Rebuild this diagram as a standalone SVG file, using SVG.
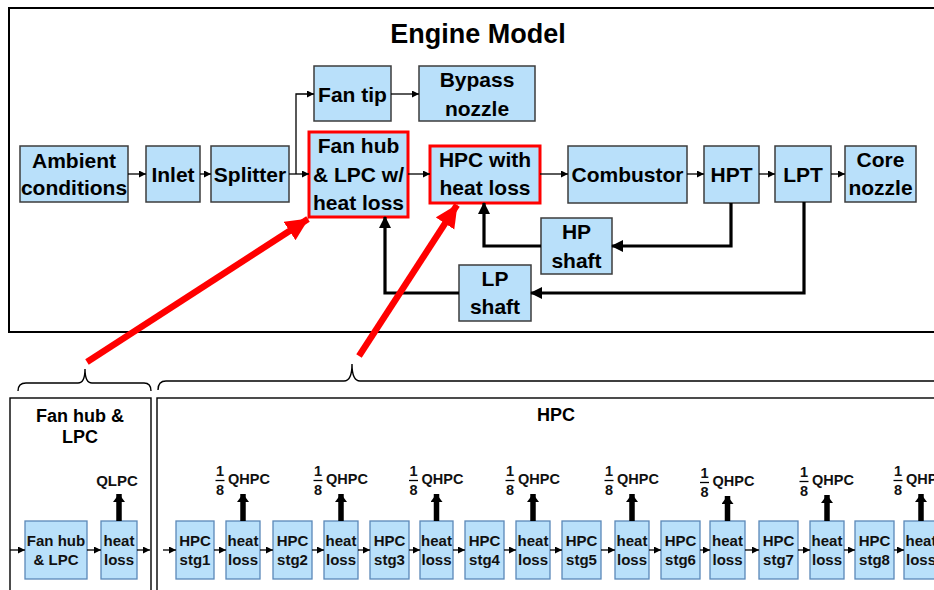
<svg xmlns="http://www.w3.org/2000/svg" width="934" height="590" viewBox="0 0 934 590">
<style>
.frame{fill:none;stroke:#000;stroke-width:2}
.thin{fill:none;stroke:#000;stroke-width:1.4}
.box{fill:#b9e0fa;stroke:#3c3c3c;stroke-width:1.5}
.rbox{fill:#b9e0fa;stroke:#ff0000;stroke-width:3}
.sbox{fill:#b9e0fa;stroke:#5a88b8;stroke-width:1.3}
.t{font-family:"Liberation Sans",Arial,sans-serif;font-weight:bold;font-size:21px;fill:#000;text-anchor:middle}
.title{font-family:"Liberation Sans",Arial,sans-serif;font-weight:bold;font-size:27px;fill:#000;text-anchor:middle}
.s{font-family:"Liberation Sans",Arial,sans-serif;font-weight:bold;font-size:15px;fill:#111;text-anchor:middle}
.st{font-family:"Liberation Sans",Arial,sans-serif;font-weight:bold;font-size:18px;fill:#000;text-anchor:middle}
.q{font-family:"Liberation Sans",Arial,sans-serif;font-weight:bold;font-size:14.5px;fill:#111}
.fr{font-family:"Liberation Sans",Arial,sans-serif;font-weight:bold;font-size:14.5px;fill:#111;text-anchor:middle}
.c{fill:none;stroke:#000;stroke-width:1.3}
.ck{fill:none;stroke:#000;stroke-width:3.2}
.cr{fill:none;stroke:#ff0000;stroke-width:6.5}
.cq{fill:none;stroke:#000;stroke-width:5.5}
</style>
<defs>
<marker id="a" markerUnits="userSpaceOnUse" markerWidth="8" markerHeight="8" refX="7" refY="3.5" orient="auto"><path d="M0,0 L7,3.5 L0,7 z" fill="#000"/></marker>
<marker id="ak" markerUnits="userSpaceOnUse" markerWidth="13" markerHeight="13" refX="11" refY="6" orient="auto"><path d="M0,0 L12,6 L0,12 z" fill="#000"/></marker>
<marker id="ar" markerUnits="userSpaceOnUse" markerWidth="26" markerHeight="24" refX="22" refY="11" orient="auto"><path d="M0,0 L23,11 L0,22 z" fill="#ff0000"/></marker>
<marker id="aq" markerUnits="userSpaceOnUse" markerWidth="12" markerHeight="12" refX="8" refY="6" orient="auto"><path d="M0,0 L8,6 L0,12 z" fill="#000"/></marker>
</defs>
<rect width="934" height="590" fill="#fff"/>

<!-- frames -->
<rect class="frame" x="9" y="8" width="940" height="324"/>
<text class="title" x="478" y="43">Engine Model</text>
<rect class="thin" x="10" y="398" width="141" height="200"/>
<rect class="thin" x="157" y="398" width="790" height="200"/>
<path class="thin" d="M18,391 Q18,383 26,383 L78,383 Q85,383 85,369 Q85,383 92,383 L144,383 Q151,383 151,391"/>
<path class="thin" d="M158,390 Q158,381 166,381 L344,381 Q352,381 352,364 Q352,381 360,381 L950,381"/>
<text class="st" x="80" y="422">Fan hub &amp;</text>
<text class="st" x="80" y="443">LPC</text>
<text class="st" x="556" y="421">HPC</text>

<!-- top nodes -->
<g id="ambient"><rect class="box" x="20" y="146" width="108" height="56"/><text class="t" x="74" y="168">Ambient</text><text class="t" x="74" y="195">conditions</text></g>
<g id="inlet"><rect class="box" x="146" y="146" width="54" height="56"/><text class="t" x="173" y="182">Inlet</text></g>
<g id="splitter"><rect class="box" x="211" y="146" width="78" height="56"/><text class="t" x="250" y="182">Splitter</text></g>
<g id="fantip"><rect class="box" x="314" y="66" width="77" height="55"/><text class="t" x="352.5" y="102">Fan tip</text></g>
<g id="bypass"><rect class="box" x="419" y="66" width="116" height="55"/><text class="t" x="477" y="87">Bypass</text><text class="t" x="477" y="116">nozzle</text></g>
<g id="fanhub"><rect class="rbox" x="309" y="132" width="99" height="85"/><text class="t" x="358.5" y="153">Fan hub</text><text class="t" x="358.5" y="182">&amp; LPC w/</text><text class="t" x="358.5" y="210">heat loss</text></g>
<g id="hpc"><rect class="rbox" x="430" y="146" width="110" height="57"/><text class="t" x="485" y="167">HPC with</text><text class="t" x="485" y="195">heat loss</text></g>
<g id="combustor"><rect class="box" x="568" y="146" width="119" height="57"/><text class="t" x="627.5" y="182">Combustor</text></g>
<g id="hpt"><rect class="box" x="704" y="146" width="55" height="57"/><text class="t" x="731.5" y="182">HPT</text></g>
<g id="lpt"><rect class="box" x="775" y="146" width="56" height="56"/><text class="t" x="803" y="182">LPT</text></g>
<g id="corenozzle"><rect class="box" x="845" y="146" width="71" height="56"/><text class="t" x="880.5" y="167">Core</text><text class="t" x="880.5" y="195">nozzle</text></g>
<g id="hpshaft"><rect class="box" x="541" y="218" width="71" height="56"/><text class="t" x="576.5" y="239">HP</text><text class="t" x="576.5" y="268">shaft</text></g>
<g id="lpshaft"><rect class="box" x="459" y="265" width="72" height="56"/><text class="t" x="495" y="286">LP</text><text class="t" x="495" y="314">shaft</text></g>

<!-- bottom nodes -->
<g id="b-fanhub"><rect class="sbox" x="25" y="521" width="62" height="58"/><text class="s" x="56" y="546">Fan hub</text><text class="s" x="56" y="565">&amp; LPC</text></g>
<g id="b-lpcloss"><rect class="sbox" x="101" y="521" width="36" height="58"/><text class="s" x="119" y="546">heat</text><text class="s" x="119" y="565">loss</text><text class="s" x="117" y="486">QLPC</text></g>

<g id="stg1"><rect class="sbox" x="176" y="521" width="38" height="58"/><text class="s" x="195" y="546">HPC</text><text class="s" x="195" y="565">stg1</text></g>
<g id="hl1"><rect class="sbox" x="226" y="521" width="34" height="58"/><text class="s" x="243" y="546">heat</text><text class="s" x="243" y="565">loss</text><text class="fr" x="220" y="476">1</text><path class="c" d="M215.5,480.5 H224.5"/><text class="fr" x="220" y="495">8</text><text class="q" x="228" y="484">QHPC</text></g>
<g id="stg2"><rect class="sbox" x="273" y="521" width="39" height="58"/><text class="s" x="292.5" y="546">HPC</text><text class="s" x="292.5" y="565">stg2</text></g>
<g id="hl2"><rect class="sbox" x="324" y="521" width="34" height="58"/><text class="s" x="341" y="546">heat</text><text class="s" x="341" y="565">loss</text><text class="fr" x="318" y="476">1</text><path class="c" d="M313.5,480.5 H322.5"/><text class="fr" x="318" y="495">8</text><text class="q" x="326" y="484">QHPC</text></g>
<g id="stg3"><rect class="sbox" x="370" y="521" width="39" height="58"/><text class="s" x="389.5" y="546">HPC</text><text class="s" x="389.5" y="565">stg3</text></g>
<g id="hl3"><rect class="sbox" x="420" y="521" width="33" height="58"/><text class="s" x="436.5" y="546">heat</text><text class="s" x="436.5" y="565">loss</text><text class="fr" x="413.5" y="476">1</text><path class="c" d="M409,480.5 H418"/><text class="fr" x="413.5" y="495">8</text><text class="q" x="421.5" y="484">QHPC</text></g>
<g id="stg4"><rect class="sbox" x="465" y="521" width="39" height="58"/><text class="s" x="484.5" y="546">HPC</text><text class="s" x="484.5" y="565">stg4</text></g>
<g id="hl4"><rect class="sbox" x="516" y="521" width="34" height="58"/><text class="s" x="533" y="546">heat</text><text class="s" x="533" y="565">loss</text><text class="fr" x="510" y="476">1</text><path class="c" d="M505.5,480.5 H514.5"/><text class="fr" x="510" y="495">8</text><text class="q" x="518" y="484">QHPC</text></g>
<g id="stg5"><rect class="sbox" x="562" y="521" width="39" height="58"/><text class="s" x="581.5" y="546">HPC</text><text class="s" x="581.5" y="565">stg5</text></g>
<g id="hl5"><rect class="sbox" x="615" y="521" width="34" height="58"/><text class="s" x="632" y="546">heat</text><text class="s" x="632" y="565">loss</text><text class="fr" x="609" y="476">1</text><path class="c" d="M604.5,480.5 H613.5"/><text class="fr" x="609" y="495">8</text><text class="q" x="617" y="484">QHPC</text></g>
<g id="stg6"><rect class="sbox" x="661" y="521" width="39" height="58"/><text class="s" x="680.5" y="546">HPC</text><text class="s" x="680.5" y="565">stg6</text></g>
<g id="hl6"><rect class="sbox" x="710" y="521" width="35" height="58"/><text class="s" x="727.5" y="546">heat</text><text class="s" x="727.5" y="565">loss</text><text class="fr" x="704.5" y="478">1</text><path class="c" d="M700,482.5 H709"/><text class="fr" x="704.5" y="497">8</text><text class="q" x="712.5" y="486">QHPC</text></g>
<g id="stg7"><rect class="sbox" x="759" y="521" width="39" height="58"/><text class="s" x="778.5" y="546">HPC</text><text class="s" x="778.5" y="565">stg7</text></g>
<g id="hl7"><rect class="sbox" x="810" y="521" width="34" height="58"/><text class="s" x="827" y="546">heat</text><text class="s" x="827" y="565">loss</text><text class="fr" x="804" y="477">1</text><path class="c" d="M799.5,481.5 H808.5"/><text class="fr" x="804" y="496">8</text><text class="q" x="812" y="485">QHPC</text></g>
<g id="stg8"><rect class="sbox" x="855" y="521" width="39" height="58"/><text class="s" x="874.5" y="546">HPC</text><text class="s" x="874.5" y="565">stg8</text></g>
<g id="hl8"><rect class="sbox" x="904" y="521" width="34" height="58"/><text class="s" x="921" y="546">heat</text><text class="s" x="921" y="565">loss</text><text class="fr" x="898" y="476">1</text><path class="c" d="M893.5,480.5 H902.5"/><text class="fr" x="898" y="495">8</text><text class="q" x="906" y="484">QHPC</text></g>

<!-- connectors -->
<g id="connectors">
<path class="c" marker-end="url(#a)" d="M128,174 H146"/>
<path class="c" marker-end="url(#a)" d="M200,174 H211"/>
<path class="c" marker-end="url(#a)" d="M289,174 H309"/>
<path class="c" marker-end="url(#a)" d="M296,174 V94 H314"/>
<path class="c" marker-end="url(#a)" d="M391,94 H419"/>
<path class="c" marker-end="url(#a)" d="M408,174 H430"/>
<path class="c" marker-end="url(#a)" d="M540,174 H568"/>
<path class="c" marker-end="url(#a)" d="M687,174 H704"/>
<path class="c" marker-end="url(#a)" d="M759,174 H775"/>
<path class="c" marker-end="url(#a)" d="M831,174 H845"/>
<path class="ck" marker-end="url(#ak)" d="M731,203 V246 H612"/>
<path class="ck" marker-end="url(#ak)" d="M541,246 H484 V203"/>
<path class="ck" marker-end="url(#ak)" d="M804,202 V293 H531"/>
<path class="ck" marker-end="url(#ak)" d="M459,293 H385 V217"/>
<path class="cr" marker-end="url(#ar)" d="M87,362 L308,219"/>
<path class="cr" marker-end="url(#ar)" d="M359,356 L457,205"/>
<path class="c" marker-end="url(#a)" d="M10,550 H25"/>
<path class="c" marker-end="url(#a)" d="M87,550 H101"/>
<path class="c" marker-end="url(#a)" d="M137,550 H150"/>
<path class="cq" marker-end="url(#aq)" d="M119,521 V494"/>
<path class="c" marker-end="url(#a)" d="M163,550 H176"/>
<path class="c" marker-end="url(#a)" d="M214,550 H226"/>
<path class="c" marker-end="url(#a)" d="M260,550 H273"/>
<path class="c" marker-end="url(#a)" d="M312,550 H324"/>
<path class="c" marker-end="url(#a)" d="M358,550 H370"/>
<path class="c" marker-end="url(#a)" d="M409,550 H420"/>
<path class="c" marker-end="url(#a)" d="M453,550 H465"/>
<path class="c" marker-end="url(#a)" d="M504,550 H516"/>
<path class="c" marker-end="url(#a)" d="M550,550 H562"/>
<path class="c" marker-end="url(#a)" d="M601,550 H615"/>
<path class="c" marker-end="url(#a)" d="M649,550 H661"/>
<path class="c" marker-end="url(#a)" d="M700,550 H710"/>
<path class="c" marker-end="url(#a)" d="M745,550 H759"/>
<path class="c" marker-end="url(#a)" d="M798,550 H810"/>
<path class="c" marker-end="url(#a)" d="M844,550 H855"/>
<path class="c" marker-end="url(#a)" d="M894,550 H904"/>
<path class="cq" marker-end="url(#aq)" d="M243,521 V494"/>
<path class="cq" marker-end="url(#aq)" d="M341,521 V494"/>
<path class="cq" marker-end="url(#aq)" d="M436.5,521 V494"/>
<path class="cq" marker-end="url(#aq)" d="M533,521 V494"/>
<path class="cq" marker-end="url(#aq)" d="M632,521 V494"/>
<path class="cq" marker-end="url(#aq)" d="M727.5,521 V496"/>
<path class="cq" marker-end="url(#aq)" d="M827,521 V495"/>
<path class="cq" marker-end="url(#aq)" d="M921,521 V494"/>
</g>
</svg>
